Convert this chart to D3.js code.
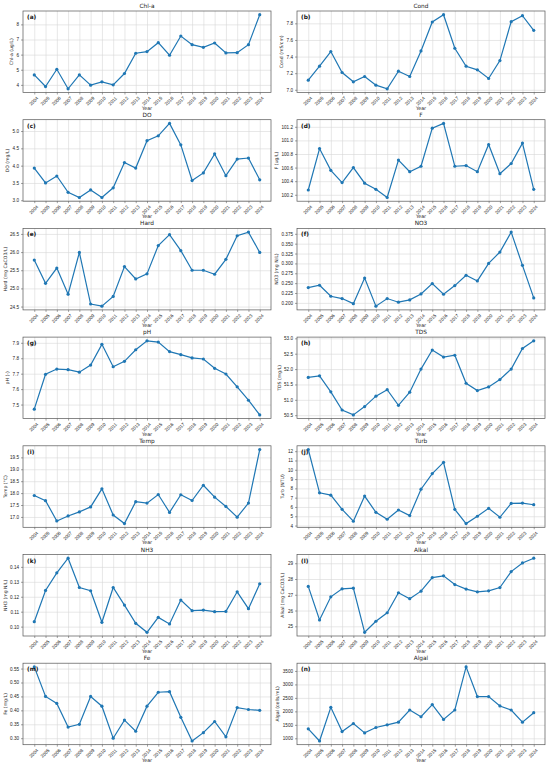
<!DOCTYPE html>
<html>
<head>
<meta charset="utf-8">
<script src="https://cdn.jsdelivr.net/npm/d3@7"></script>
<style>
  body { margin: 0; background: #fff; }
  svg { display: block; font-family: "DejaVu Sans", sans-serif; }
</style>
</head>
<body>
<div id="chartContainer"></div>
<script>
var years = d3.range(2004, 2025);

var chla = [4.66, 3.89, 5.03, 3.74, 4.66, 3.98, 4.2, 4.0, 4.75, 6.09, 6.2, 6.79, 5.96, 7.23, 6.66, 6.48, 6.77, 6.11, 6.13, 6.66, 8.64];
var cond = [7.116, 7.284, 7.46, 7.208, 7.096, 7.16, 7.056, 7.012, 7.224, 7.16, 7.468, 7.816, 7.904, 7.5, 7.284, 7.24, 7.136, 7.352, 7.82, 7.892, 7.716];
var dOx = [3.93, 3.5, 3.7, 3.23, 3.08, 3.3, 3.08, 3.36, 4.09, 3.93, 4.72, 4.86, 5.22, 4.6, 3.57, 3.79, 4.34, 3.71, 4.19, 4.22, 3.59];
var fl = [100.27, 100.88, 100.56, 100.38, 100.6, 100.37, 100.28, 100.16, 100.71, 100.54, 100.62, 101.18, 101.25, 100.62, 100.63, 100.54, 100.94, 100.51, 100.66, 100.96, 100.28];
var hard = [25.78, 25.14, 25.56, 24.84, 25.99, 24.57, 24.51, 24.78, 25.6, 25.26, 25.4, 26.18, 26.48, 26.04, 25.5, 25.5, 25.39, 25.8, 26.45, 26.55, 25.99];
var no3 = [0.2387, 0.2446, 0.2168, 0.211, 0.198, 0.263, 0.1916, 0.211, 0.2017, 0.2076, 0.2227, 0.2488, 0.2219, 0.2438, 0.2699, 0.2556, 0.3, 0.3288, 0.3793, 0.2951, 0.2126];
var ph = [7.47, 7.696, 7.73, 7.726, 7.71, 7.756, 7.89, 7.745, 7.78, 7.855, 7.913, 7.905, 7.843, 7.823, 7.802, 7.795, 7.735, 7.698, 7.615, 7.528, 7.433];
var tds = [51.73, 51.78, 51.26, 50.67, 50.51, 50.78, 51.12, 51.33, 50.82, 51.25, 52.0, 52.62, 52.39, 52.45, 51.54, 51.3, 51.42, 51.66, 52.0, 52.67, 52.92];
var temp = [17.9, 17.68, 16.83, 17.04, 17.21, 17.42, 18.18, 17.08, 16.72, 17.64, 17.58, 17.94, 17.19, 17.93, 17.69, 18.33, 17.83, 17.44, 16.99, 17.58, 19.83];
var turb = [12.18, 7.52, 7.27, 5.74, 4.46, 7.17, 5.42, 4.68, 5.67, 5.07, 7.91, 9.59, 10.8, 5.74, 4.21, 5.0, 5.85, 4.89, 6.38, 6.42, 6.24];
var nh3 = [0.1033, 0.1242, 0.136, 0.1458, 0.1262, 0.124, 0.1029, 0.1262, 0.1144, 0.1022, 0.0962, 0.1062, 0.1018, 0.1178, 0.1107, 0.1111, 0.11, 0.1102, 0.1233, 0.112, 0.1287];
var alkal = [27.53, 25.4, 26.87, 27.38, 27.42, 24.62, 25.32, 25.86, 27.13, 26.75, 27.23, 28.09, 28.2, 27.65, 27.36, 27.19, 27.25, 27.46, 28.47, 29.02, 29.32];
var fe = [0.556, 0.45, 0.425, 0.34, 0.35, 0.45, 0.415, 0.3, 0.365, 0.325, 0.415, 0.465, 0.467, 0.375, 0.29, 0.32, 0.36, 0.305, 0.41, 0.403, 0.4];
var algal = [1350, 900, 2150, 1250, 1550, 1200, 1400, 1500, 1600, 2050, 1800, 2250, 1700, 2050, 3650, 2550, 2550, 2200, 2050, 1600, 1950];

var chlaTicks = [4, 5, 6, 7, 8];
var condTicks = [7.0, 7.2, 7.4, 7.6, 7.8];
var doTicks = [3.0, 3.5, 4.0, 4.5, 5.0];
var fTicks = [100.2, 100.4, 100.6, 100.8, 101.0, 101.2];
var hardTicks = [24.5, 25.0, 25.5, 26.0, 26.5];
var no3Ticks = [0.2, 0.225, 0.25, 0.275, 0.3, 0.325, 0.35, 0.375];
var phTicks = [7.5, 7.6, 7.7, 7.8, 7.9];
var tdsTicks = [50.5, 51.0, 51.5, 52.0, 52.5, 53.0];
var tempTicks = [17.0, 17.5, 18.0, 18.5, 19.0, 19.5];
var turbTicks = [4, 5, 6, 7, 8, 9, 10, 11, 12];
var nh3Ticks = [0.10, 0.11, 0.12, 0.13, 0.14];
var alkalTicks = [25, 26, 27, 28, 29];
var feTicks = [0.30, 0.35, 0.40, 0.45, 0.50, 0.55];
var algalTicks = [1000, 1500, 2000, 2500, 3000, 3500];

var panels = [
  { title: "Chl-a", label: "Chl-a (ug/L)", tag: "(a)", values: chla, ticks: chlaTicks, fmt: "d" },
  { title: "Cond", label: "Cond (mS/cm)", tag: "(b)", values: cond, ticks: condTicks, fmt: ".1f" },
  { title: "DO", label: "DO (mg/L)", tag: "(c)", values: dOx, ticks: doTicks, fmt: ".1f" },
  { title: "F", label: "F (ug/L)", tag: "(d)", values: fl, ticks: fTicks, fmt: ".1f" },
  { title: "Hard", label: "Hard (mg CaCO3/L)", tag: "(e)", values: hard, ticks: hardTicks, fmt: ".1f" },
  { title: "NO3", label: "NO3 (mg N/L)", tag: "(f)", values: no3, ticks: no3Ticks, fmt: ".3f" },
  { title: "pH", label: "pH (-)", tag: "(g)", values: ph, ticks: phTicks, fmt: ".1f" },
  { title: "TDS", label: "TDS (mg/L)", tag: "(h)", values: tds, ticks: tdsTicks, fmt: ".1f" },
  { title: "Temp", label: "Temp (°C)", tag: "(i)", values: temp, ticks: tempTicks, fmt: ".1f" },
  { title: "Turb", label: "Turb (NTU)", tag: "(j)", values: turb, ticks: turbTicks, fmt: "d" },
  { title: "NH3", label: "NH3 (mg N/L)", tag: "(k)", values: nh3, ticks: nh3Ticks, fmt: ".2f" },
  { title: "Alkal", label: "Alkal (mg CaCO3/L)", tag: "(l)", values: alkal, ticks: alkalTicks, fmt: "d" },
  { title: "Fe", label: "Fe (mg/L)", tag: "(m)", values: fe, ticks: feTicks, fmt: ".2f" },
  { title: "Algal", label: "Algal (cells/mL)", tag: "(n)", values: algal, ticks: algalTicks, fmt: "d" }
];

var W = 550, H = 768;
var colLeft = [23, 297], plotW = 248;
var rowTop = 11, rowStep = 108.7, plotH = 81.5;
var blue = "#1f77b4";

var svg = d3.select("#chartContainer")
  .append("svg")
  .attr("width", W)
  .attr("height", H);

panels.forEach(function(p, i) {
  var col = i % 2, row = Math.floor(i / 2);
  var left = colLeft[col], top = rowTop + row * rowStep;

  var x = d3.scaleLinear().domain([2003, 2025]).range([0, plotW]);
  var ext = d3.extent(p.values);
  var pad = (ext[1] - ext[0]) * 0.05;
  var y = d3.scaleLinear().domain([ext[0] - pad, ext[1] + pad]).range([plotH, 0]);

  var g = svg.append("g").attr("transform", "translate(" + left + "," + top + ")");

  // grid
  g.append("g")
    .attr("transform", "translate(0," + plotH + ")")
    .call(d3.axisBottom(x).tickValues(years).tickSize(-plotH).tickFormat(""))
    .call(function(s) {
      s.select(".domain").remove();
      s.selectAll("line").attr("stroke", "#d6d6d6").attr("stroke-width", 0.6);
    });
  g.append("g")
    .call(d3.axisLeft(y).tickValues(p.ticks).tickSize(-plotW).tickFormat(""))
    .call(function(s) {
      s.select(".domain").remove();
      s.selectAll("line").attr("stroke", "#d6d6d6").attr("stroke-width", 0.6);
    });

  // x axis
  g.append("g")
    .attr("transform", "translate(0," + plotH + ")")
    .call(d3.axisBottom(x).tickValues(years).tickSize(2).tickFormat(d3.format("d")))
    .call(function(s) {
      s.select(".domain").remove();
      s.selectAll("line").attr("stroke", "#444").attr("stroke-width", 0.5);
      s.selectAll("text")
        .attr("font-size", 4.6)
        .attr("fill", "#222")
        .attr("text-anchor", "middle")
        .attr("y", 0)
        .attr("dy", "0.35em")
        .attr("transform", "translate(-1,8.5) rotate(-45)");
    });

  // y axis
  var yAx = g.append("g")
    .call(d3.axisLeft(y).tickValues(p.ticks).tickSize(2).tickPadding(2).tickFormat(d3.format(p.fmt)))
    .call(function(s) {
      s.select(".domain").remove();
      s.selectAll("line").attr("stroke", "#444").attr("stroke-width", 0.5);
      s.selectAll("text").attr("font-size", 4.6).attr("fill", "#222");
    });

  var maxW = 0;
  yAx.selectAll("text").each(function() {
    maxW = Math.max(maxW, this.getBBox().width);
  });

  // frame
  g.append("rect")
    .attr("width", plotW).attr("height", plotH)
    .attr("fill", "none").attr("stroke", "#555").attr("stroke-width", 0.7);

  // line + markers
  var line = d3.line()
    .x(function(d, k) { return x(years[k]); })
    .y(function(d) { return y(d); });

  g.append("path")
    .datum(p.values)
    .attr("fill", "none")
    .attr("stroke", blue)
    .attr("stroke-width", 1.2)
    .attr("d", line);

  g.selectAll("circle")
    .data(p.values)
    .enter().append("circle")
    .attr("cx", function(d, k) { return x(years[k]); })
    .attr("cy", function(d) { return y(d); })
    .attr("r", 1.6)
    .attr("fill", blue);

  // texts
  g.append("text")
    .attr("x", plotW / 2).attr("y", -3)
    .attr("text-anchor", "middle")
    .attr("font-size", 5.8).attr("fill", "#222")
    .text(p.title);

  g.append("text")
    .attr("x", 4).attr("y", 8)
    .attr("font-size", 5.8).attr("font-weight", "bold").attr("fill", "#111")
    .text(p.tag);

  g.append("text")
    .attr("transform", "translate(" + (-maxW - 7) + "," + (plotH / 2) + ") rotate(-90)")
    .attr("text-anchor", "middle")
    .attr("font-size", 4.6).attr("fill", "#222")
    .text(p.label);

  g.append("text")
    .attr("x", plotW / 2).attr("y", plotH + 17)
    .attr("text-anchor", "middle")
    .attr("font-size", 4.8).attr("fill", "#222")
    .text("Year");
});
</script>
</body>
</html>
